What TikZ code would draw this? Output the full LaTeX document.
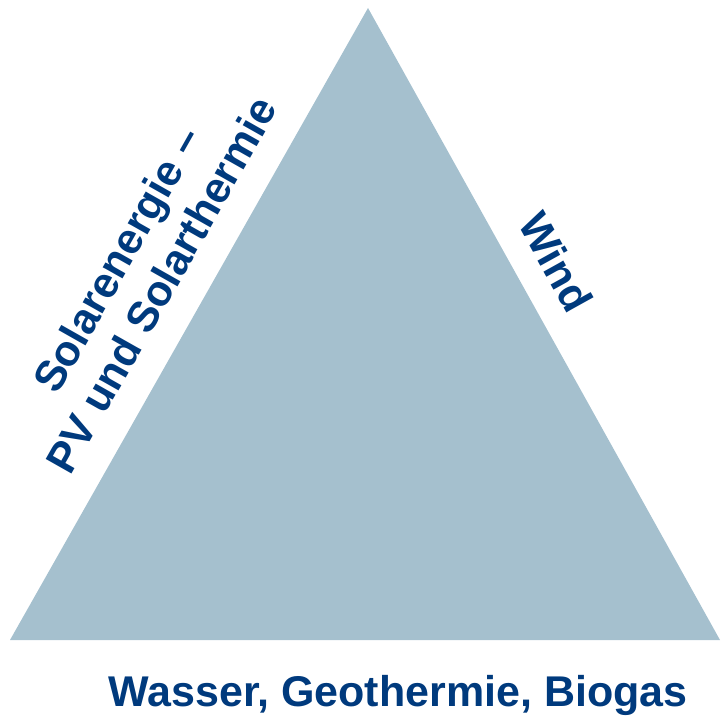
\documentclass[tikz,border=0pt]{standalone}
\usepackage{fontspec}
\setmainfont{Liberation Sans}
\usepackage{tikz}
\definecolor{tribg}{RGB}{165,192,206}
\definecolor{textblue}{RGB}{0,58,125}

\begin{document}
\begin{tikzpicture}[x=1pt, y=1pt,
    sidetext/.style={text=textblue, font=\fontsize{43}{51}\selectfont\bfseries, inner sep=0pt, align=center}]

    % Frame
    \useasboundingbox (0,0) rectangle (721,716);

    % Define corners
    \coordinate (left)  at (10,76);
    \coordinate (right) at (720,76);
    \coordinate (top)   at (368,708);

    % Triangle
    \fill[tribg] (left) -- (right) -- (top) -- cycle;

    % Define nodes
    \node[sidetext, rotate=60.5] (solar) at (139,444) {Solarenergie –\\PV und Solarthermie};
    \node[sidetext, rotate=-61]  (wind)  at (556,454) {Wind};
    \node[sidetext, anchor=base] (water) at (398,10)  {Wasser, Geothermie, Biogas};

\end{tikzpicture}
\end{document}
